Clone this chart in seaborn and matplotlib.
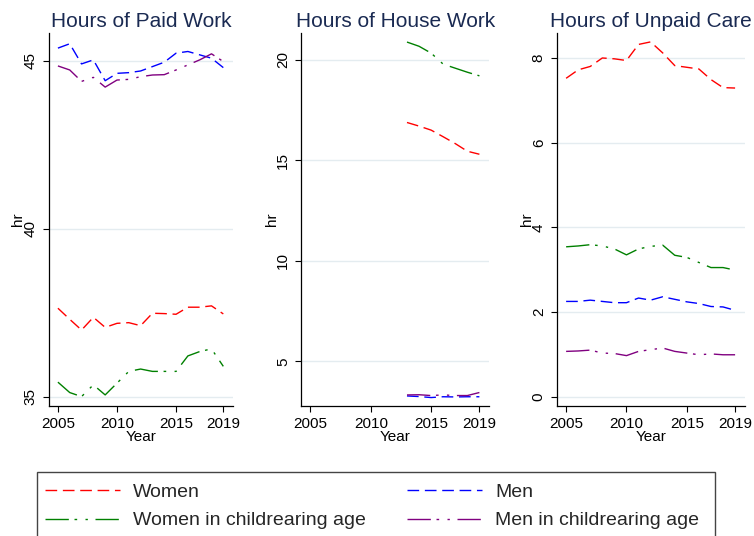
import numpy as np
import pandas as pd
import matplotlib
matplotlib.use("Agg")
import matplotlib.pyplot as plt
from matplotlib.lines import Line2D
from matplotlib.patches import Rectangle
import seaborn as sns

# ---------------- data ----------------
years = list(range(2005, 2020))
years_house = list(range(2013, 2020))

groups = ["Women", "Men", "Women in childrearing age", "Men in childrearing age"]

paid_women = [37.63, 37.30, 36.98, 37.36, 37.06, 37.18, 37.20, 37.11, 37.48, 37.47, 37.45, 37.66, 37.66, 37.70, 37.46]
paid_men = [45.37, 45.50, 44.90, 45.02, 44.40, 44.62, 44.64, 44.69, 44.82, 44.95, 45.22, 45.27, 45.17, 45.07, 44.79]
paid_women_cr = [35.43, 35.12, 35.00, 35.35, 35.05, 35.40, 35.75, 35.82, 35.75, 35.75, 35.75, 36.21, 36.34, 36.42, 35.90]
paid_men_cr = [44.84, 44.72, 44.38, 44.50, 44.21, 44.42, 44.44, 44.52, 44.57, 44.58, 44.72, 44.87, 45.02, 45.20, 44.97]

house_women = [16.88, 16.70, 16.50, 16.17, 15.83, 15.45, 15.30]
house_men = [3.28, 3.25, 3.20, 3.24, 3.23, 3.24, 3.24]
house_women_cr = [20.88, 20.67, 20.33, 19.78, 19.58, 19.38, 19.20]
house_men_cr = [3.33, 3.34, 3.30, 3.33, 3.30, 3.30, 3.45]

care_women = [7.52, 7.72, 7.80, 8.00, 7.98, 7.94, 8.32, 8.38, 8.12, 7.82, 7.78, 7.74, 7.49, 7.30, 7.29]
care_men = [2.25, 2.25, 2.28, 2.25, 2.22, 2.22, 2.33, 2.28, 2.36, 2.30, 2.24, 2.20, 2.13, 2.12, 2.04]
care_women_cr = [3.54, 3.56, 3.59, 3.56, 3.49, 3.35, 3.49, 3.55, 3.58, 3.34, 3.29, 3.17, 3.05, 3.05, 2.99]
care_men_cr = [1.07, 1.08, 1.10, 1.03, 1.02, 0.97, 1.07, 1.11, 1.15, 1.07, 1.03, 0.99, 1.01, 0.99, 0.99]

titles = ["Hours of Paid Work", "Hours of House Work", "Hours of Unpaid Care"]
yticks_list = [[35, 40, 45], [5, 10, 15, 20], [0, 2, 4, 6, 8]]
xtick_vals = [2005, 2010, 2015, 2019]


def long_frame(x, series):
    rows = []
    for g, vals in zip(groups, series):
        for xx, v in zip(x, vals):
            rows.append({"Year": xx, "hr": v, "group": g})
    return pd.DataFrame(rows)


frames = [
    long_frame(years, [paid_women, paid_men, paid_women_cr, paid_men_cr]),
    long_frame(years_house, [house_women, house_men, house_women_cr, house_men_cr]),
    long_frame(years, [care_women, care_men, care_women_cr, care_men_cr]),
]

# ---------------- style ----------------
sns.set_theme(style="ticks")
plt.rcParams["font.family"] = ["Liberation Sans", "DejaVu Sans"]

palette = {"Women": "#ff0000", "Men": "#0000ff",
           "Women in childrearing age": "#008000", "Men in childrearing age": "#800080"}
dash_d = (8.4, 4.1)
dash_ld = (16.8, 4.1, 1.9, 6.0, 1.7, 5.5)
dashes = {"Women": dash_d, "Men": dash_d,
          "Women in childrearing age": dash_ld, "Men in childrearing age": dash_ld}

fig = plt.figure(figsize=(7.54, 5.36), dpi=100)
W, H = 754.0, 536.0
ax_px = [(48.7, 233.0), (301.0, 489.3), (556.7, 745.0)]
top_px, bot_px = 33.0, 406.0
ylims = [(34.72, 45.82), (2.78, 21.33), (-0.22, 8.59)]
label_x = [-0.13, -0.116, -0.12]
xlim = (2004.22, 2019.82)

for i, (l, r) in enumerate(ax_px):
    ax = fig.add_axes([l / W, 1 - bot_px / H, (r - l) / W, (bot_px - top_px) / H])
    sns.lineplot(data=frames[i], x="Year", y="hr", hue="group", style="group",
                 hue_order=groups, style_order=groups, palette=palette,
                 dashes=dashes, linewidth=1.0, legend=False, ax=ax)
    ax.set_xlim(*xlim)
    ax.set_ylim(*ylims[i])
    ax.set_xticks(xtick_vals)
    ax.set_xticklabels([str(v) for v in xtick_vals])
    ax.set_yticks(yticks_list[i])
    ax.set_yticklabels([str(v) for v in yticks_list[i]], rotation=90, va="center")
    ax.grid(axis="y", color="#e4ecf0", linewidth=1.0)
    ax.grid(axis="x", visible=False)
    ax.set_axisbelow(True)
    sns.despine(ax=ax)
    for s in ["left", "bottom"]:
        ax.spines[s].set_color("black")
        ax.spines[s].set_linewidth(0.9)
    ax.tick_params(axis="both", direction="out", length=4.3, width=0.8,
                   color="black", labelsize=11, labelcolor="black", pad=3.5)
    ax.set_xlabel("Year", fontsize=11, color="black", labelpad=-0.5)
    ax.set_ylabel("hr", fontsize=11, color="black")
    ax.yaxis.set_label_coords(label_x[i], 0.5)
    ax.set_title(titles[i], fontsize=15, color="#1a2a52", pad=4.5)

leg_order = ["Women", "Women in childrearing age", "Men", "Men in childrearing age"]
handles = [Line2D([0], [0], color=palette[g], lw=1.0, dashes=dashes[g]) for g in leg_order]
fs = 14
bp = 0.55
x0_px = 45.0 - bp * fs * 100 / 72
leg = fig.legend(handles, leg_order, loc="upper left",
                 bbox_to_anchor=(x0_px / W, 1 - 472.3 / H),
                 ncol=2, fontsize=fs, frameon=False,
                 handlelength=3.86, handletextpad=0.65, borderpad=bp,
                 labelspacing=0.58, columnspacing=2.15, borderaxespad=0.0)
box = Rectangle((36.7 / W, -0.02), (715 - 36.7) / W, (1 - 472.3 / H) + 0.02,
                transform=fig.transFigure, fill=False, edgecolor="#444444",
                linewidth=1.0)
fig.add_artist(box)

fig.savefig("out.png", dpi=100)
